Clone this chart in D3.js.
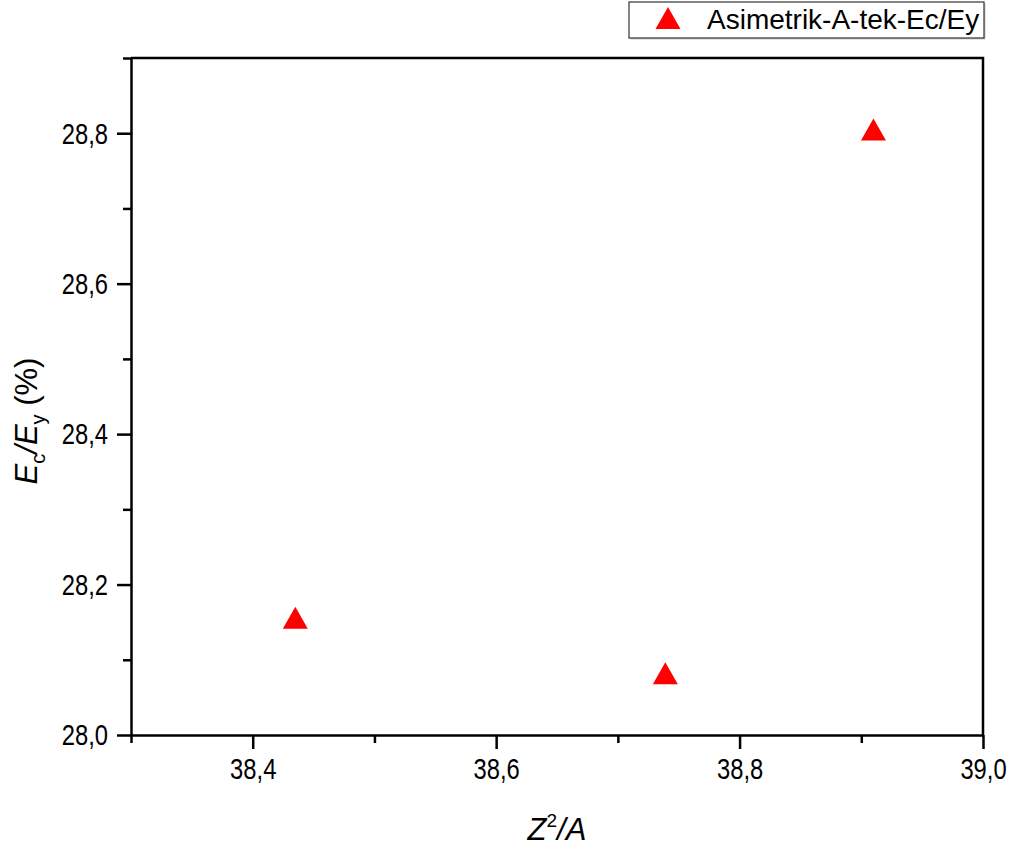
<!DOCTYPE html>
<html>
<head>
<meta charset="utf-8">
<script src="https://cdn.jsdelivr.net/npm/d3@7"></script>
<style>
  html, body { margin: 0; padding: 0; background: #fff; }
  svg text { font-family: "Liberation Sans", Arial, sans-serif; }
</style>
</head>
<body>
<svg id="chart" width="1015" height="849"></svg>
<script>
// ---- data ----
const seriesName = "Asimetrik-A-tek-Ec/Ey";
const xValues = [38.435, 38.739, 38.910];
const yValues = [28.156, 28.082, 28.805];
const xMajorTicks = [38.4, 38.6, 38.8, 39.0];
const xMinorTicks = [38.3, 38.5, 38.7, 38.9];
const yMajorTicks = [28.0, 28.2, 28.4, 28.6, 28.8];
const yMinorTicks = [28.1, 28.3, 28.5, 28.7, 28.9];
const xDomain = [38.3, 39.0];
const yDomain = [28.0, 28.9];

// ---- layout ----
const L = 131, R = 983, T = 58, B = 735;
const svg = d3.select("#chart");
const x = d3.scaleLinear().domain(xDomain).range([L, R]);
const y = d3.scaleLinear().domain(yDomain).range([B, T]);
const fmt = v => d3.format(".1f")(v).replace(".", ",");
const SX = 0.82;

// frame (top and right)
svg.append("path")
  .attr("d", `M${L},${T}H${R}V${B}`)
  .attr("fill", "none").attr("stroke", "#000").attr("stroke-width", 2.5);

// minor ticks
svg.append("g").attr("transform", `translate(0,${B})`)
  .call(d3.axisBottom(x).tickValues(xMinorTicks).tickSize(8).tickFormat(""))
  .call(g => g.select(".domain").remove())
  .call(g => g.selectAll("line").attr("stroke-width", 2.5));
svg.append("g").attr("transform", `translate(${L},0)`)
  .call(d3.axisLeft(y).tickValues(yMinorTicks).tickSize(8).tickFormat(""))
  .call(g => g.select(".domain").remove())
  .call(g => g.selectAll("line").attr("stroke-width", 2.5));

// major x axis
svg.append("g").attr("transform", `translate(0,${B})`)
  .call(d3.axisBottom(x).tickValues(xMajorTicks).tickSize(14).tickSizeOuter(0).tickPadding(0).tickFormat(fmt))
  .call(g => g.select(".domain").attr("stroke-width", 2.5))
  .call(g => g.selectAll("line").attr("stroke-width", 2.5))
  .call(g => g.selectAll("text")
    .attr("font-size", 29).attr("fill", "#000")
    .attr("dy", null).attr("y", 44)
    .attr("transform", `scale(${SX},1)`));

// major y axis
svg.append("g").attr("transform", `translate(${L},0)`)
  .call(d3.axisLeft(y).tickValues(yMajorTicks).tickSize(14).tickSizeOuter(0).tickFormat(fmt))
  .call(g => g.select(".domain").attr("stroke-width", 2.5))
  .call(g => g.selectAll("line").attr("stroke-width", 2.5))
  .call(g => g.selectAll("text")
    .attr("font-size", 29).attr("fill", "#000")
    .attr("x", -23 / SX).attr("dy", "0.34em")
    .attr("transform", `scale(${SX},1)`));

// markers
const tri = "M0,-11L12.5,11L-12.5,11Z";
svg.append("g").selectAll("path.pt")
  .data(xValues.map((v, i) => [v, yValues[i]]))
  .join("path").attr("class", "pt")
  .attr("d", tri)
  .attr("transform", d => `translate(${x(d[0])},${y(d[1])})`)
  .attr("fill", "#ff0000");

// axis titles
const xt = svg.append("text")
  .attr("x", (L + R) / 2).attr("y", 840)
  .attr("text-anchor", "middle").attr("font-size", 31).attr("fill", "#000");
xt.append("tspan").attr("font-style", "italic").text("Z");
xt.append("tspan").attr("font-size", 19).attr("dy", -13).text("2");
xt.append("tspan").attr("font-style", "italic").attr("dy", 13).text("/A");

const yt = svg.append("text")
  .attr("transform", "translate(37,421) rotate(-90)")
  .attr("text-anchor", "middle").attr("font-size", 31).attr("fill", "#000");
yt.append("tspan").attr("font-style", "italic").text("E");
yt.append("tspan").attr("font-size", 20).attr("dy", 8).text("c");
yt.append("tspan").attr("font-style", "italic").attr("dy", -8).text("/E");
yt.append("tspan").attr("font-size", 20).attr("dy", 8).text("y");
yt.append("tspan").attr("dy", -8).text(" (%)");

// legend
const lg = svg.append("g");
lg.append("rect").attr("x", 630.5).attr("y", 3.5).attr("width", 355).attr("height", 36)
  .attr("fill", "#ccc");
lg.append("rect").attr("x", 629).attr("y", 2).attr("width", 355).attr("height", 36)
  .attr("fill", "#fff").attr("stroke", "#333").attr("stroke-width", 1.2);
lg.append("path").attr("d", tri).attr("transform", "translate(668,18)").attr("fill", "#ff0000");
lg.append("text").attr("x", 707).attr("y", 29).attr("font-size", 28).attr("fill", "#000").text(seriesName);
</script>
</body>
</html>
